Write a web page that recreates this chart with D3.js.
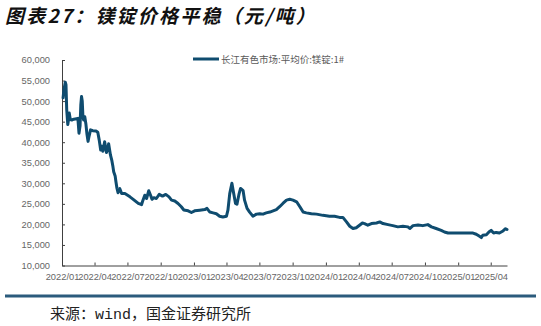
<!DOCTYPE html>
<html>
<head>
<meta charset="utf-8">
<script src="https://cdn.jsdelivr.net/npm/d3@7"></script>
<style>
  html, body { margin: 0; padding: 0; background: #ffffff; }
  svg { display: block; }
</style>
</head>
<body>
<svg id="chart" width="541" height="326"></svg>
<script>
// Magnesium ingot 1# average price, Changjiang nonferrous market (CNY/ton)
const dates = [
  "2022-01-04","2022-01-06","2022-01-10","2022-01-12","2022-01-14","2022-01-17","2022-01-20","2022-01-21",
  "2022-01-24","2022-01-28","2022-02-03","2022-02-14","2022-02-15","2022-02-17","2022-02-20","2022-02-22",
  "2022-02-24","2022-02-26","2022-02-28","2022-03-02","2022-03-05","2022-03-08","2022-03-11","2022-03-14",
  "2022-03-17","2022-03-21","2022-03-27","2022-04-05","2022-04-10","2022-04-14","2022-04-18","2022-04-21",
  "2022-04-24","2022-04-29","2022-05-04","2022-05-08","2022-05-10","2022-05-15","2022-05-19","2022-05-22",
  "2022-05-24","2022-05-28","2022-05-30","2022-06-02","2022-06-05","2022-06-10","2022-06-15","2022-06-24",
  "2022-07-08","2022-07-17","2022-07-31","2022-08-09","2022-08-13","2022-08-18","2022-08-23","2022-08-29",
  "2022-09-03","2022-09-07","2022-09-12","2022-09-19","2022-09-27","2022-10-06","2022-10-15","2022-10-24",
  "2022-10-31","2022-11-09","2022-11-18","2022-11-27","2022-12-04","2022-12-16","2022-12-25","2023-01-03",
  "2023-01-17","2023-01-31","2023-02-06","2023-02-14","2023-02-23","2023-03-04","2023-03-13","2023-03-22",
  "2023-04-01","2023-04-05","2023-04-10","2023-04-16","2023-04-21","2023-04-26","2023-04-30","2023-05-06",
  "2023-05-10","2023-05-17","2023-05-21","2023-05-28","2023-06-04","2023-06-13","2023-06-23","2023-07-02",
  "2023-07-11","2023-07-20","2023-07-30","2023-08-08","2023-08-17","2023-08-26","2023-09-04","2023-09-14",
  "2023-09-23","2023-10-02","2023-10-12","2023-10-21","2023-10-30","2023-11-08","2023-11-22","2023-12-06",
  "2023-12-24","2024-01-11","2024-01-25","2024-02-08","2024-02-17","2024-02-27","2024-03-07","2024-03-16",
  "2024-03-25","2024-04-03","2024-04-11","2024-04-17","2024-04-26","2024-05-06","2024-05-20","2024-05-29",
  "2024-06-07","2024-06-21","2024-07-04","2024-07-18","2024-08-01","2024-08-15","2024-08-20","2024-08-29",
  "2024-09-12","2024-09-25","2024-10-09","2024-10-19","2024-11-01","2024-11-15","2024-11-24","2024-12-04",
  "2024-12-17","2025-01-05","2025-01-23","2025-02-11","2025-02-20","2025-03-01","2025-03-06","2025-03-10",
  "2025-03-20","2025-03-27","2025-04-02","2025-04-09","2025-04-16","2025-04-25","2025-05-05","2025-05-12",
  "2025-05-16"
];
const prices = [
  50800,52500,54600,54000,48000,44300,46000,47100,
  45500,45400,45600,45800,44500,42200,44000,49000,
  51100,50000,46000,45400,46200,44500,42000,40200,
  41500,43000,42800,42700,42400,40500,38100,39000,
  37800,40100,37500,38500,39600,36900,35500,34000,
  32800,31800,30500,28800,27700,28700,27500,27500,
  26700,26100,25100,24800,25900,27100,26300,28200,
  27100,26100,26500,26300,27300,26900,27300,26700,
  25900,25700,25100,24300,23500,23300,22900,23300,
  23450,23600,23900,23000,22800,22600,22000,21800,
  22000,23450,27500,30000,27500,25100,24900,27500,
  28750,28200,25900,23900,23000,22000,22500,22600,
  22500,22800,23000,23300,23600,24300,25100,25900,
  26100,25900,25500,24300,23000,22800,22600,22500,
  22200,22000,22000,21700,21700,20600,19550,19000,
  19200,19800,20350,20200,19800,20200,20350,20600,
  20200,19950,19700,19400,19550,19400,19000,19700,
  19850,19700,19950,19400,19000,18550,18150,17900,
  17900,17900,17900,17900,17600,17100,16800,17350,
  17500,18150,18550,17900,18050,17900,18400,18950,
  18750
];
const yTicks = [10000, 15000, 20000, 25000, 30000, 35000, 40000, 45000, 50000, 55000, 60000];
const xStart = "2022-01-01";
const xEnd = "2025-05-16";
const seriesName = "长江有色市场:平均价:镁锭:1#";
const titleText = "图表27：镁锭价格平稳（元/吨）";

const parse = d3.timeParse("%Y-%m-%d");
const series = dates.map((d, i) => ({ date: parse(d), value: prices[i] }));

const svg = d3.select("#chart");
const latin = "'Liberation Sans', Arial, 'Noto Sans CJK SC', sans-serif";
const cjk = "'Noto Sans CJK SC', 'Liberation Sans', sans-serif";

const plot = { left: 62, right: 507, top: 60, bottom: 265.5 };

const x = d3.scaleTime()
  .domain([parse(xStart), parse(xEnd)])
  .range([plot.left, plot.right]);
const y = d3.scaleLinear()
  .domain([10000, 60000])
  .range([plot.bottom, plot.top]);

// Title
svg.append("text")
  .attr("x", 5).attr("y", 23)
  .attr("font-family", cjk)
  .attr("font-size", 19)
  .attr("font-weight", "bold")
  .attr("font-style", "italic")
  .attr("letter-spacing", 2.2)
  .attr("fill", "#111")
  .text(titleText);

// Y axis
const yAxis = d3.axisLeft(y)
  .tickValues(yTicks)
  .tickFormat(d3.format(","))
  .tickSize(-3)
  .tickSizeOuter(0)
  .tickPadding(12);
const gy = svg.append("g")
  .attr("transform", `translate(${plot.left},0)`)
  .call(yAxis);
gy.select(".domain").attr("stroke", "#404040").attr("stroke-width", 1);
gy.selectAll(".tick line").attr("stroke", "#404040");
gy.selectAll(".tick text")
  .attr("font-family", latin)
  .attr("font-size", 9.3)
  .attr("fill", "#666");

// X axis, quarterly ticks
const xTickDates = d3.timeMonth.every(3).range(parse(xStart), parse(xEnd));
const xAxis = d3.axisBottom(x)
  .tickValues(xTickDates)
  .tickFormat(d3.timeFormat("%Y/%m"))
  .tickSize(-3)
  .tickSizeOuter(0)
  .tickPadding(8);
const gx = svg.append("g")
  .attr("transform", `translate(0,${plot.bottom})`)
  .call(xAxis);
gx.select(".domain").attr("stroke", "#404040").attr("stroke-width", 1);
gx.selectAll(".tick line").attr("stroke", "#404040");
gx.selectAll(".tick text")
  .attr("font-family", latin)
  .attr("font-size", 9.3)
  .attr("fill", "#666");

// Price line
const lineColor = "#0f4c6f";
const line = d3.line()
  .x(d => x(d.date))
  .y(d => y(d.value));
svg.append("path")
  .datum(series)
  .attr("fill", "none")
  .attr("stroke", lineColor)
  .attr("stroke-width", 3)
  .attr("stroke-linejoin", "round")
  .attr("stroke-linecap", "round")
  .attr("d", line);

// Legend
const legend = svg.append("g").attr("transform", "translate(193,59)");
legend.append("line")
  .attr("x1", 0).attr("x2", 26)
  .attr("y1", 0).attr("y2", 0)
  .attr("stroke", lineColor)
  .attr("stroke-width", 3);
legend.append("text")
  .attr("x", 28).attr("y", 3.5)
  .attr("font-family", cjk)
  .attr("font-size", 9.5)
  .attr("fill", "#595959")
  .text(seriesName);

// Footer rule and source
svg.append("line")
  .attr("x1", 5).attr("x2", 536)
  .attr("y1", 296).attr("y2", 296)
  .attr("stroke", "#2b5b7c")
  .attr("stroke-width", 3);
const src = svg.append("text")
  .attr("x", 50).attr("y", 319)
  .attr("font-family", cjk)
  .attr("font-size", 15)
  .attr("fill", "#222");
src.append("tspan").text("来源：");
src.append("tspan").attr("font-family", "'Liberation Mono', 'DejaVu Sans Mono', monospace").text("wind");
src.append("tspan").text("，国金证券研究所");
</script>
</body>
</html>
